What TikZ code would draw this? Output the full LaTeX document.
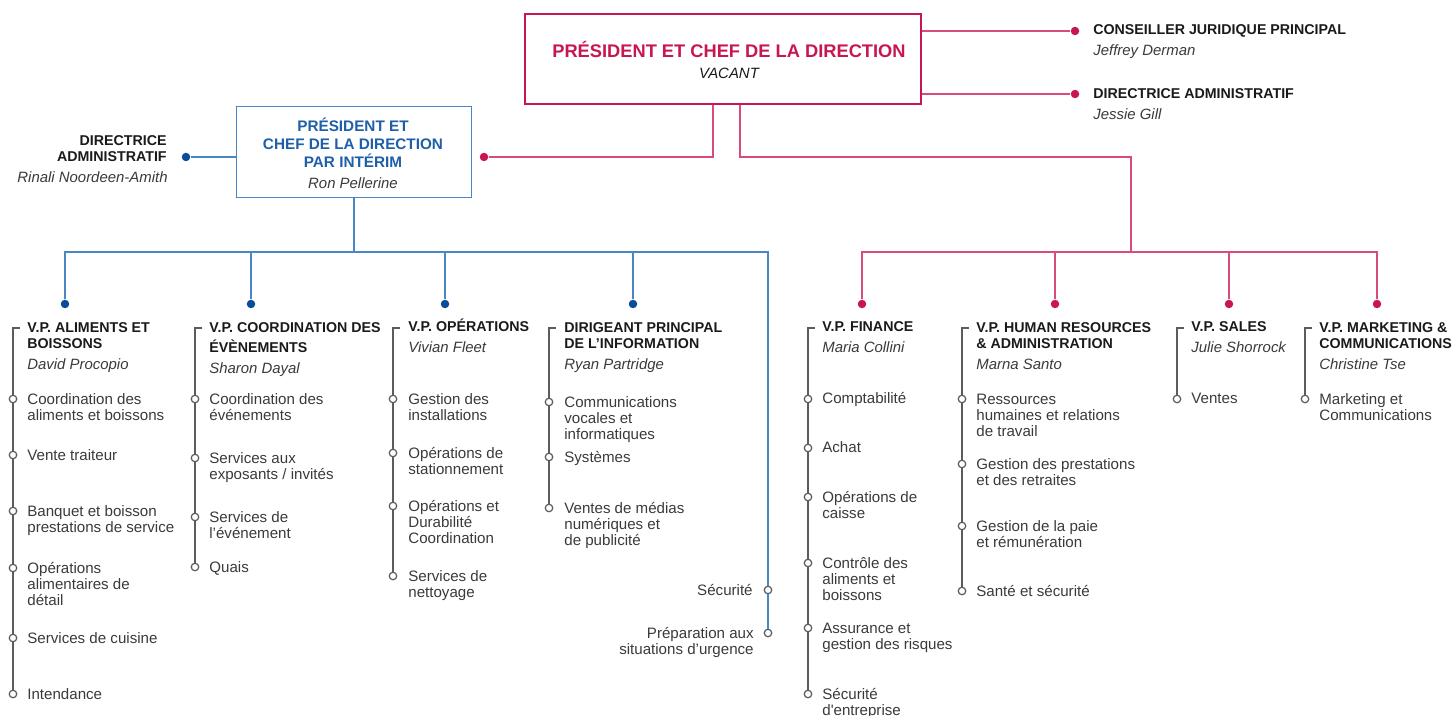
\documentclass[tikz,border=0pt]{standalone}
\usepackage{fontspec}
\setmainfont{Liberation Sans}
\usetikzlibrary{positioning}
\definecolor{crim}{HTML}{C8174F}
\definecolor{crimline}{HTML}{D84B7C}
\definecolor{navy}{HTML}{1F5FA8}
\definecolor{navyline}{HTML}{4B86C4}
\definecolor{navydot}{HTML}{0B4C9A}
\definecolor{ink}{HTML}{1A1A1A}
\definecolor{txt}{HTML}{3A3A3A}
\definecolor{rail}{HTML}{5C5C5C}

\begin{document}
\begin{tikzpicture}[x=0.02cm, y=-0.02cm,
  redbox/.style={draw=crim, line width=1.1pt, minimum width=7.92cm, minimum height=1.8cm, inner sep=0pt},
  bluebox/.style={draw=navyline, line width=1.1pt, minimum width=4.7cm, minimum height=1.82cm, inner sep=0pt},
  redline/.style={draw=crimline, line width=0.8pt},
  blueline/.style={draw=navyline, line width=0.8pt},
  railline/.style={draw=rail, line width=1.1pt},
  reddot/.style={circle, fill=crim, inner sep=0pt, minimum size=0.17cm},
  bluedot/.style={circle, fill=navydot, inner sep=0pt, minimum size=0.17cm},
  ring/.style={circle, draw=rail, line width=0.7pt, fill=white, inner sep=0pt, minimum size=0.15cm},
  head/.style={anchor=base west, align=left, inner sep=0pt, text=ink, font=\bfseries\fontsize{8.1}{9.5}\selectfont},
  who/.style={anchor=base west, inner sep=0pt, text=txt, font=\itshape\fontsize{8.5}{10}\selectfont},
  item/.style={anchor=base west, align=left, inner sep=0pt, text=txt, font=\fontsize{8.6}{9.3}\selectfont}
]
  \useasboundingbox (0,0) rectangle (1455,716);

  % top of the chart (text nodes sit on the baseline of their last line)
  \node[redbox] (top) at (723,59) {};
  \node[anchor=base, align=center, inner sep=0pt, font=\fontsize{10.4}{12}\selectfont] (toptxt) at (729,79)
    {\textcolor{crim}{\bfseries PRÉSIDENT ET CHEF DE LA DIRECTION}\\{\color{ink}\itshape\fontsize{8.5}{10}\selectfont VACANT}};
  \node[reddot] (legal) at (1075,31) {};
  \node[reddot] (admr)  at (1075,94) {};
  \node[head] (legalt) at (1093,35) {CONSEILLER JURIDIQUE PRINCIPAL};
  \node[who]  (legaln) at (1093,56) {Jeffrey Derman};
  \node[head] (admrt)  at (1093,99) {DIRECTRICE ADMINISTRATIF};
  \node[who]  (admrn)  at (1093,120) {Jessie Gill};

  \node[bluebox] (interim) at (354,152) {};
  \node[anchor=base, align=center, inner sep=0pt, text=navy, font=\bfseries\fontsize{8.7}{10.2}\selectfont] (interimtxt) at (353,189)
    {PRÉSIDENT ET\\CHEF DE LA DIRECTION\\PAR INTÉRIM\\[2pt]{\color{txt}\mdseries\itshape\fontsize{8.5}{10}\selectfont Ron Pellerine}};
  \node[reddot]  (rdot0) at (484,157) {};
  \node[bluedot] (admb)  at (186,157) {};
  \node[head, anchor=base east, align=right] (admbt) at (167,162) {DIRECTRICE\\ADMINISTRATIF};
  \node[who, anchor=base east] (admbn) at (168,183) {Rinali Noordeen-Amith};

  \coordinate (rj1) at (713,157);
  \coordinate (rj2) at (740,157);
  \coordinate (rj3) at (1131,157);
  \coordinate (rbar) at (1131,252);
  \coordinate (bbar) at (352,252);

  % dots over the columns
  \node[bluedot] (bdot1) at (65,304) {};
  \node[bluedot] (bdot2) at (251,304) {};
  \node[bluedot] (bdot3) at (445,304) {};
  \node[bluedot] (bdot4) at (633,304) {};
  \node[reddot]  (rdot5) at (862,304) {};
  \node[reddot]  (rdot6) at (1055,304) {};
  \node[reddot]  (rdot7) at (1229,304) {};
  \node[reddot]  (rdot8) at (1377,304) {};

  % column 1
  \coordinate (fbtop) at (13,328);
  \node[head] (fbh) at (27,349) {V.P. ALIMENTS ET\\BOISSONS};
  \node[who]  (fbn) at (27,370) {David Procopio};
  \node[ring] (fb1) at (13,399) {};
  \node[ring] (fb2) at (13,455) {};
  \node[ring] (fb3) at (13,511) {};
  \node[ring] (fb4) at (13,568) {};
  \node[ring] (fb5) at (13,638) {};
  \node[ring] (fb6) at (13,694) {};
  \node[item] (fb1t) at (27,420.4) {Coordination des\\aliments et boissons};
  \node[item] (fb2t) at (27,460) {Vente traiteur};
  \node[item] (fb3t) at (27,532.4) {Banquet et boisson\\prestations de service};
  \node[item] (fb4t) at (27,605.8) {Opérations\\alimentaires de\\détail};
  \node[item] (fb5t) at (27,643) {Services de cuisine};
  \node[item] (fb6t) at (27,699) {Intendance};

  % column 2
  \coordinate (evtop) at (195,328);
  \node[head] (evh) at (209,353) {V.P. COORDINATION DES\\[2pt]ÉVÈNEMENTS};
  \node[who]  (evn) at (209,374) {Sharon Dayal};
  \node[ring] (ev1) at (195,399) {};
  \node[ring] (ev2) at (195,458) {};
  \node[ring] (ev3) at (195,517) {};
  \node[ring] (ev4) at (195,567) {};
  \node[item] (ev1t) at (209,420.4) {Coordination des\\événements};
  \node[item] (ev2t) at (209,479.4) {Services aux\\exposants / invités};
  \node[item] (ev3t) at (209,538.4) {Services de\\l’événement};
  \node[item] (ev4t) at (209,572) {Quais};

  % column 3
  \coordinate (optop) at (393,328);
  \node[head] (oph) at (408,332) {V.P. OPÉRATIONS};
  \node[who]  (opn) at (408,353) {Vivian Fleet};
  \node[ring] (op1) at (393,399) {};
  \node[ring] (op2) at (393,453) {};
  \node[ring] (op3) at (393,506) {};
  \node[ring] (op4) at (393,576) {};
  \node[item] (op1t) at (408,420.4) {Gestion des\\installations};
  \node[item] (op2t) at (408,474.4) {Opérations de\\stationnement};
  \node[item] (op3t) at (408,543.8) {Opérations et\\Durabilité\\Coordination};
  \node[item] (op4t) at (408,597.4) {Services de\\nettoyage};

  % column 4
  \coordinate (citop) at (549,328);
  \node[head] (cih) at (564,349) {DIRIGEANT PRINCIPAL\\DE L’INFORMATION};
  \node[who]  (cin) at (564,370) {Ryan Partridge};
  \node[ring] (ci1) at (549,402) {};
  \node[ring] (ci2) at (549,457) {};
  \node[ring] (ci3) at (549,508) {};
  \node[item] (ci1t) at (564,439.8) {Communications\\vocales et\\informatiques};
  \node[item] (ci2t) at (564,462) {Systèmes};
  \node[item] (ci3t) at (564,545.8) {Ventes de médias\\numériques et\\de publicité};

  % security, under the interim office
  \node[ring] (sec)  at (768,590) {};
  \node[ring] (prep) at (768,633) {};
  \node[item, anchor=base east, align=right] (sect)  at (753,595) {Sécurité};
  \node[item, anchor=base east, align=right] (prept) at (754,654.4) {Préparation aux\\situations d’urgence};

  % column 5
  \coordinate (fitop) at (808,328);
  \node[head] (fih) at (822,332) {V.P. FINANCE};
  \node[who]  (fin) at (822,353) {Maria Collini};
  \node[ring] (fi1) at (808,399) {};
  \node[ring] (fi2) at (808,448) {};
  \node[ring] (fi3) at (808,497) {};
  \node[ring] (fi4) at (808,563) {};
  \node[ring] (fi5) at (808,628) {};
  \node[ring] (fi6) at (808,694) {};
  \node[item] (fi1t) at (822,404) {Comptabilité};
  \node[item] (fi2t) at (822,453) {Achat};
  \node[item] (fi3t) at (822,518.4) {Opérations de\\caisse};
  \node[item] (fi4t) at (822,600.8) {Contrôle des\\aliments et\\boissons};
  \node[item] (fi5t) at (822,649.4) {Assurance et\\gestion des risques};
  \node[item] (fi6t) at (822,715.4) {Sécurité\\d\textquotesingle entreprise};

  % column 6
  \coordinate (hrtop) at (962,328);
  \node[head] (hrh) at (976,349) {V.P. HUMAN RESOURCES\\\& ADMINISTRATION};
  \node[who]  (hrn) at (976,370) {Marna Santo};
  \node[ring] (hr1) at (962,399) {};
  \node[ring] (hr2) at (962,464) {};
  \node[ring] (hr3) at (962,526) {};
  \node[ring] (hr4) at (962,591) {};
  \node[item] (hr1t) at (976,436.8) {Ressources\\humaines et relations\\de travail};
  \node[item] (hr2t) at (976,485.4) {Gestion des prestations\\et des retraites};
  \node[item] (hr3t) at (976,547.4) {Gestion de la paie\\et rémunération};
  \node[item] (hr4t) at (976,596) {Santé et sécurité};

  % column 7
  \coordinate (satop) at (1177,328);
  \node[head] (sah) at (1191,332) {V.P. SALES};
  \node[who]  (san) at (1191,353) {Julie Shorrock};
  \node[ring] (sa1) at (1177,399) {};
  \node[item] (sa1t) at (1191,404) {Ventes};

  % column 8
  \coordinate (mktop) at (1305,328);
  \node[head] (mkh) at (1319,349) {V.P. MARKETING \&\\COMMUNICATIONS};
  \node[who]  (mkn) at (1319,370) {Christine Tse};
  \node[ring] (mk1) at (1305,399) {};
  \node[item] (mk1t) at (1319,420.4) {Marketing et\\Communications};

  % red connectors
  \draw[redline] (top.east |- legal) -- (legal);
  \draw[redline] (top.east |- admr) -- (admr);
  \draw[redline] (top.south -| rj1) -- (rj1) -- (rdot0);
  \draw[redline] (top.south -| rj2) -- (rj2) -- (rj3) -- (rbar);
  \draw[redline] (rdot5) -- (rdot5 |- rbar) -- (rdot8 |- rbar) -- (rdot8);
  \draw[redline] (rdot6 |- rbar) -- (rdot6);
  \draw[redline] (rdot7 |- rbar) -- (rdot7);

  % blue connectors
  \draw[blueline] (admb) -- (interim.west |- admb);
  \draw[blueline] (interim.south) -- (interim.south |- bbar);
  \draw[blueline] (bdot1) -- (bdot1 |- bbar) -- (sec |- bbar) -- (sec) -- (prep);
  \draw[blueline] (bdot2 |- bbar) -- (bdot2);
  \draw[blueline] (bdot3 |- bbar) -- (bdot3);
  \draw[blueline] (bdot4 |- bbar) -- (bdot4);

  % column rails
  \draw[railline] ([xshift=0.14cm]fbtop) -- (fbtop) -- (fb1) -- (fb2) -- (fb3) -- (fb4) -- (fb5) -- (fb6);
  \draw[railline] ([xshift=0.14cm]evtop) -- (evtop) -- (ev1) -- (ev2) -- (ev3) -- (ev4);
  \draw[railline] ([xshift=0.14cm]optop) -- (optop) -- (op1) -- (op2) -- (op3) -- (op4);
  \draw[railline] ([xshift=0.14cm]citop) -- (citop) -- (ci1) -- (ci2) -- (ci3);
  \draw[railline] ([xshift=0.14cm]fitop) -- (fitop) -- (fi1) -- (fi2) -- (fi3) -- (fi4) -- (fi5) -- (fi6);
  \draw[railline] ([xshift=0.14cm]hrtop) -- (hrtop) -- (hr1) -- (hr2) -- (hr3) -- (hr4);
  \draw[railline] ([xshift=0.14cm]satop) -- (satop) -- (sa1);
  \draw[railline] ([xshift=0.14cm]mktop) -- (mktop) -- (mk1);
\end{tikzpicture}
\end{document}
